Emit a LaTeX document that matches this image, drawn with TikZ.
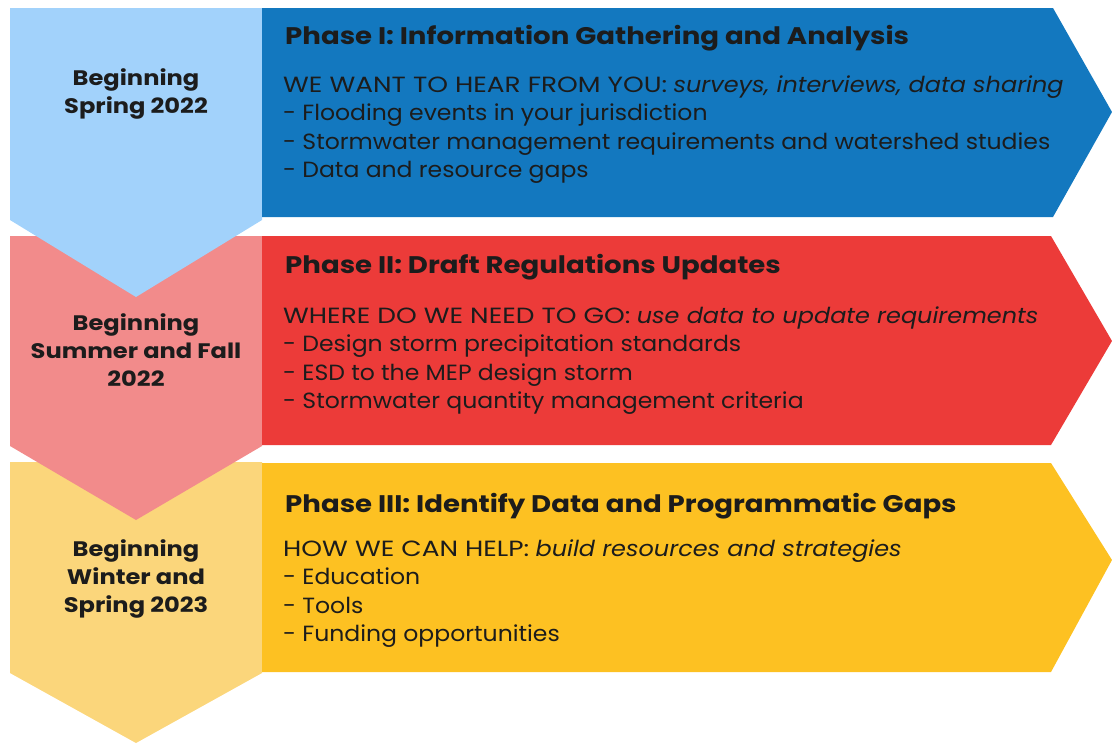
\documentclass[tikz,border=0pt]{standalone}
\usepackage{fontspec}
\setmainfont[FakeStretch=1.07,BoldFeatures={FakeStretch=1.15},ItalicFeatures={FakeStretch=1.09}]{Poppins}
\newfontfamily\capsfont[FakeStretch=1.2]{Poppins}
\usepackage{xcolor}
\definecolor{skyblue}{HTML}{A2D2FB}
\definecolor{deepblue}{HTML}{1378BF}
\definecolor{rosepink}{HTML}{F28B8B}
\definecolor{brightred}{HTML}{EC3B39}
\definecolor{paleyellow}{HTML}{FBD67B}
\definecolor{goldyellow}{HTML}{FDC122}
\definecolor{ink}{HTML}{1C1C1C}

\begin{document}
\begin{tikzpicture}[x=1pt,y=-1pt,
      season/.style={align=center,text=ink,font=\bfseries\fontsize{21}{28}\selectfont},
      phase/.style={anchor=base west,inner sep=0pt,text=ink,font=\bfseries\fontsize{24}{28}\selectfont},
      items/.style={anchor=base west,inner sep=0pt,text=ink,font=\fontsize{22}{28.5}\selectfont}
]
      \useasboundingbox (0,0) rectangle (1112,744);
      % timeline chevrons, lowest first so each tip overlaps the next one
      \fill[paleyellow] (10,462) -- (262,462) -- (262,673) -- (136,743) -- (10,673) -- cycle;
      \fill[rosepink] (10,236) -- (262,236) -- (262,446) -- (136,520) -- (10,446) -- cycle;
      \fill[skyblue] (10,8) -- (262,8) -- (262,220) -- (136,297) -- (10,220) -- cycle;
      % phase arrows
      \fill[deepblue] (262,8) -- (1053,8) -- (1112,112) -- (1053,217) -- (262,217) -- cycle;
      \fill[brightred] (262,236) -- (1051,236) -- (1112,341) -- (1051,445) -- (262,445) -- cycle;
      \fill[goldyellow] (262,463) -- (1051,463) -- (1112,560) -- (1051,672) -- (262,672) -- cycle;

      \node[season] at (136,94) (s1) {Beginning\\Spring 2022};
      \node[season] at (136,350) (s2) {Beginning\\Summer and Fall\\2022};
      \node[season] at (136,579) (s3) {Beginning\\Winter and\\Spring 2023};

      \node[phase] at (285,45) (p1) {Phase I: Information Gathering and Analysis};
      \node[items] at (283,92) (l1) {\begin{tabular}[t]{@{}l@{}}
            {\capsfont WE WANT TO HEAR FROM YOU:} \textit{surveys, interviews, data sharing}\\
            - Flooding events in your jurisdiction\\
            - Stormwater management requirements and watershed studies\\
            - Data and resource gaps
            \end{tabular}};

      \node[phase] at (285,273) (p2) {Phase II: Draft Regulations Updates};
      \node[items] at (283,323) (l2) {\begin{tabular}[t]{@{}l@{}}
            {\capsfont WHERE DO WE NEED TO GO:} \textit{use data to update requirements}\\
            - Design storm precipitation standards\\
            - ESD to the MEP design storm\\
            - Stormwater quantity management criteria
            \end{tabular}};

      \node[phase] at (285,512) (p3) {Phase III: Identify Data and Programmatic Gaps};
      \node[items] at (283,556) (l3) {\begin{tabular}[t]{@{}l@{}}
            {\capsfont HOW WE CAN HELP:} \textit{build resources and strategies}\\
            - Education\\
            - Tools\\
            - Funding opportunities
            \end{tabular}};
\end{tikzpicture}
\end{document}
